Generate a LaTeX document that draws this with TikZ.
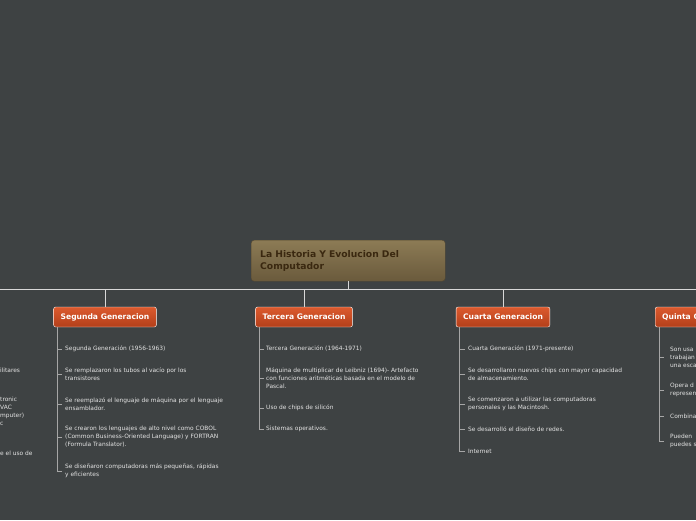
\documentclass[tikz,border=0pt]{standalone}
\usepackage{fontspec}
\setmainfont{DejaVu Sans}
\usetikzlibrary{positioning}
\definecolor{bgcolor}{HTML}{3E4243}
\definecolor{rootTop}{HTML}{8C7B55}
\definecolor{rootBot}{HTML}{6A5A3C}
\definecolor{rootText}{HTML}{3A2810}
\definecolor{genTop}{HTML}{DC5A2E}
\definecolor{genBot}{HTML}{B33F1A}
\definecolor{lineC}{HTML}{D8D8D8}
\definecolor{itemC}{HTML}{E4E4E4}
\begin{document}
\begin{tikzpicture}[x=1pt,y=-1pt,
  root/.style={draw=rootBot!80!black, rounded corners=3pt, top color=rootTop, bottom color=rootBot, text=rootText, font=\fontsize{9.2}{12}\selectfont\bfseries, align=left, anchor=north west, minimum width=194pt, minimum height=41pt, text width=176pt, inner xsep=9pt},
  gen/.style={draw=white, rounded corners=2pt, top color=genTop, bottom color=genBot, text=white, font=\fontsize{7.6}{9}\selectfont\bfseries, minimum height=20pt, inner xsep=7pt},
  item/.style={text=itemC, font=\fontsize{5.9}{8}\selectfont, align=left, anchor=west, inner sep=0pt},
  conn/.style={draw=lineC, line width=0.8pt},
  tick/.style={draw=gray!70, line width=0.8pt}]
  \fill[bgcolor] (0,0) rectangle (696,520);
  \clip (0,0) rectangle (696,520);

  % root and main bar
  \node [root] (root) at (251,240) {La Historia Y Evolucion Del\\Computador};
  \coordinate (barL) at (0,289);
  \coordinate (barR) at (696,289);
  \draw [conn] (barL) -- (barR);
  \draw [conn] (root.south) -- (root.south |- barL);

  % generations
  \node [gen] (g2) at (105,317) {Segunda Generacion};
  \node [gen] (g3) at (304,317) {Tercera Generacion};
  \node [gen] (g4) at (503,317) {Cuarta Generacion};
  \node [gen, anchor=west] (g5) at (655,317) {Quinta Generacion};
  \foreach \g in {g2,g3,g4} \draw [conn] (\g.north) -- (\g.north |- barL);
  \draw [conn] (g5.north) -- (g5.north |- barL);

  % segunda
  \node [item] (s1) at (65,349) {Segunda Generación (1956-1963)};
  \node [item] (s2) at (65,374) {Se remplazaron los tubos al vacío por los\\transistores};
  \node [item] (s3) at (65,404) {Se reemplazó el lenguaje de máquina por el lenguaje\\ensamblador.};
  \node [item] (s4) at (65,437) {Se crearon los lenguajes de alto nivel como COBOL\\(Common Business-Oriented Language) y FORTRAN\\(Formula Translator).};
  \node [item] (s5) at (65,471) {Se diseñaron computadoras más pequeñas, rápidas\\y eficientes};
  \draw [tick] (g2.south west) ++(4,0) coordinate (sl) -- (sl |- s5.west) -- ++(5,0);
  \foreach \i in {s1,s2,s3,s4} \draw [tick] (sl |- \i.west) -- ++(5,0);

  % tercera
  \node [item] (t1) at (266,349) {Tercera Generación (1964-1971)};
  \node [item] (t2) at (266,378) {Máquina de multiplicar de Leibniz (1694)- Artefacto\\con funciones aritméticas basada en el modelo de\\Pascal.};
  \node [item] (t3) at (266,408) {Uso de chips de silicón};
  \node [item] (t4) at (266,429) {Sistemas operativos.};
  \draw [tick] (g3.south west) ++(4,0) coordinate (tl) -- (tl |- t4.west) -- ++(5,0);
  \foreach \i in {t1,t2,t3} \draw [tick] (tl |- \i.west) -- ++(5,0);

  % cuarta
  \node [item] (c1) at (468,349) {Cuarta Generación (1971-presente)};
  \node [item] (c2) at (468,374) {Se desarrollaron nuevos chips con mayor capacidad\\de almacenamiento.};
  \node [item] (c3) at (468,404) {Se comenzaron a utilizar las computadoras\\personales y las Macintosh.};
  \node [item] (c4) at (468,429) {Se desarrolló el diseño de redes.};
  \node [item] (c5) at (468,451) {Internet};
  \draw [tick] (g4.south west) ++(4,0) coordinate (cl) -- (cl |- c5.west) -- ++(5,0);
  \foreach \i in {c1,c2,c3,c4} \draw [tick] (cl |- \i.west) -- ++(5,0);

  % quinta (cut by the right edge)
  \node [item] (q1) at (670,357) {Son usa\\trabajan\\una esca};
  \node [item] (q2) at (670,390) {Opera d\\represen};
  \node [item] (q3) at (670,416) {Combina};
  \node [item] (q4) at (670,441) {Pueden\\puedes s};
  \draw [tick] (g5.south west) ++(4,0) coordinate (ql) -- (ql |- q4.west) -- ++(5,0);
  \foreach \i in {q1,q2,q3} \draw [tick] (ql |- \i.west) -- ++(5,0);

  % primera (cut by the left edge)
  \node [item] (p1) at (0,370) {ilitares};
  \node [item, anchor=north west] (p2) at (0,397) {tronic\\VAC\\mputer)\\c};
  \node [item] (p3) at (0,453) {e el uso de};
\end{tikzpicture}
\end{document}
